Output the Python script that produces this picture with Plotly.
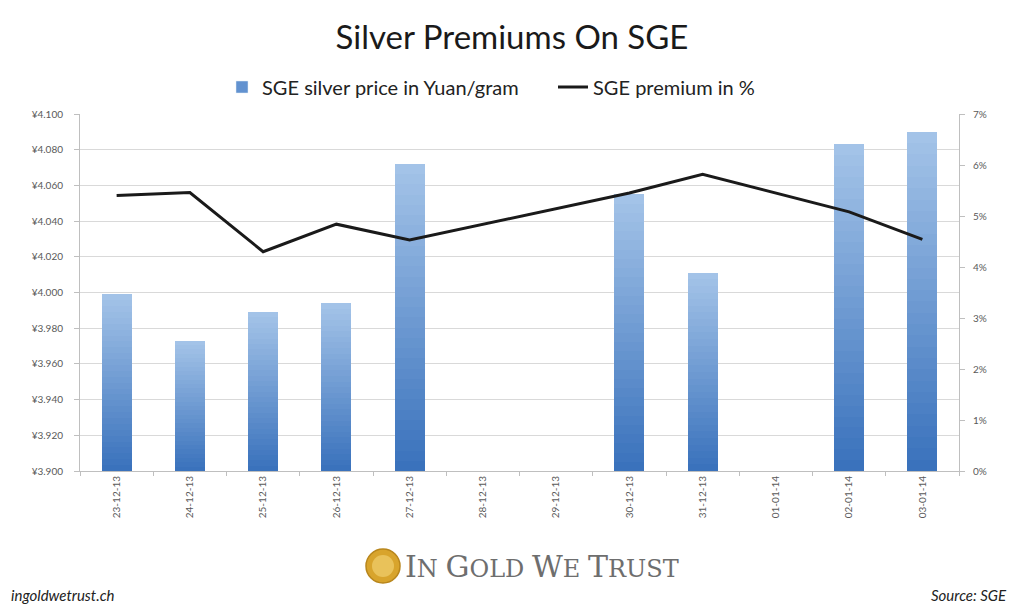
import plotly.graph_objects as go

dates = ["23-12-13", "24-12-13", "25-12-13", "26-12-13", "27-12-13", "28-12-13",
         "29-12-13", "30-12-13", "31-12-13", "01-01-14", "02-01-14", "03-01-14"]
price = [3.999, 3.973, 3.989, 3.994, 4.072, None, None, 4.055, 4.011, None, 4.083, 4.090]
premium = [5.40, 5.46, 4.30, 4.84, 4.53, None, None, 5.45, 5.82, None, 5.08, 4.54]

price_ticks = [3.90, 3.92, 3.94, 3.96, 3.98, 4.00, 4.02, 4.04, 4.06, 4.08, 4.10]
price_labels = ["¥%.3f" % v for v in price_ticks]
pct_ticks = [0, 1, 2, 3, 4, 5, 6, 7]
pct_labels = ["%d%%" % v for v in pct_ticks]

BASE = 3.9
N_SEG = 30
top_rgb = (163, 195, 232)
bot_rgb = (58, 114, 188)

# page body margin offsets the figure by 8px; layout numbers below are in figure px
W, H = 1016, 596
L, T, PW, PH = 72, 106, 879, 357


def px(x):
    return (x - L) / PW


def py(y):
    return (T + PH - y) / PH


fig = go.Figure()

# gradient bars built as stacked slices of each bar's own height
for i in range(N_SEG):
    t = i / (N_SEG - 1)
    r = round(bot_rgb[0] + (top_rgb[0] - bot_rgb[0]) * t)
    g = round(bot_rgb[1] + (top_rgb[1] - bot_rgb[1]) * t)
    b = round(bot_rgb[2] + (top_rgb[2] - bot_rgb[2]) * t)
    seg = []
    for v in price:
        if v is None:
            seg.append(None)
        else:
            d = (v - BASE) / N_SEG
            seg.append(BASE + d if i == 0 else d)
    fig.add_trace(go.Bar(
        x=dates, y=seg, marker=dict(color=f"rgb({r},{g},{b})", line=dict(width=0)),
        showlegend=False, hoverinfo="skip", yaxis="y"))

# legend entry for bars
fig.add_trace(go.Bar(x=[dates[0]], y=[None], name="SGE silver price in Yuan/gram",
                     marker=dict(color="rgb(98,146,208)"), showlegend=True, legendrank=1))

fig.add_trace(go.Scatter(x=dates, y=premium, name="SGE premium in %", mode="lines",
                         line=dict(color="#1a1a1a", width=3), connectgaps=True,
                         yaxis="y2", legendrank=2))

fig.update_layout(
    width=W, height=H,
    barmode="stack", bargap=0.59,
    paper_bgcolor="white", plot_bgcolor="white",
    margin=dict(l=L, r=W - L - PW, t=T, b=H - T - PH, autoexpand=False),
    font=dict(family="Lato", color="#595959"),
    title=dict(text="Silver Premiums On SGE", x=504 / W, xanchor="center",
               y=1 - 29 / H, yanchor="middle",
               font=dict(family="Lato", size=33, color="#1a1a1a")),
    legend=dict(orientation="h", x=px(214), xanchor="left", y=py(79), yanchor="middle",
                font=dict(size=20, color="#222222"), traceorder="normal",
                entrywidth=286, entrywidthmode="pixels",
                itemwidth=30, bgcolor="rgba(0,0,0,0)"),
    xaxis=dict(type="category", categoryorder="array", categoryarray=dates,
               tickangle=-90, tickfont=dict(size=10, color="#595959"),
               showline=True, linecolor="#bfbfbf", linewidth=1,
               ticks="outside", tickson="boundaries", ticklen=4, tickcolor="#bfbfbf",
               showgrid=False),
    yaxis=dict(range=[3.9, 4.1], tickmode="array", tickvals=price_ticks, ticktext=price_labels,
               tickfont=dict(size=10, color="#595959"), ticklabelstandoff=9,
               showgrid=True, gridcolor="#d9d9d9", gridwidth=1,
               showline=True, linecolor="#bfbfbf", ticks="outside", ticklen=5,
               tickcolor="#bfbfbf", zeroline=False),
    yaxis2=dict(range=[0, 7], tickmode="array", tickvals=pct_ticks, ticktext=pct_labels,
                overlaying="y", side="right", ticklabelstandoff=6,
                tickfont=dict(size=10, color="#595959"), showgrid=False,
                showline=True, linecolor="#bfbfbf", ticks="outside", ticklen=5,
                tickcolor="#bfbfbf", zeroline=False),
)

# footer branding
fig.add_shape(type="circle", xref="paper", yref="paper",
              x0=px(358), x1=px(392), y0=py(575), y1=py(541),
              fillcolor="#d8a42c", line=dict(color="#b8861c", width=1.5))
fig.add_shape(type="circle", xref="paper", yref="paper",
              x0=px(364), x1=px(386), y0=py(569), y1=py(547),
              fillcolor="#e9c25a", line=dict(width=0))
fig.add_annotation(
    xref="paper", yref="paper", x=px(395), y=py(558),
    xanchor="left", yanchor="middle", showarrow=False,
    text=("<span style='font-size:30px'>I</span>N "
          "<span style='font-size:30px'>G</span>OLD "
          "<span style='font-size:30px'>W</span>E "
          "<span style='font-size:30px'>T</span>RUST"),
    font=dict(family="DejaVu Serif", size=24, color="#6e6e6e"))
fig.add_annotation(xref="paper", yref="paper", x=px(1), y=py(587),
                   xanchor="left", yanchor="middle", showarrow=False,
                   text="<i>ingoldwetrust.ch</i>",
                   font=dict(family="Lato", size=15, color="#222222"))
fig.add_annotation(xref="paper", yref="paper", x=px(1001), y=py(587),
                   xanchor="right", yanchor="middle", showarrow=False,
                   text="<i>Source: SGE</i>",
                   font=dict(family="Lato", size=15, color="#222222"))

fig.write_html("out.html")
